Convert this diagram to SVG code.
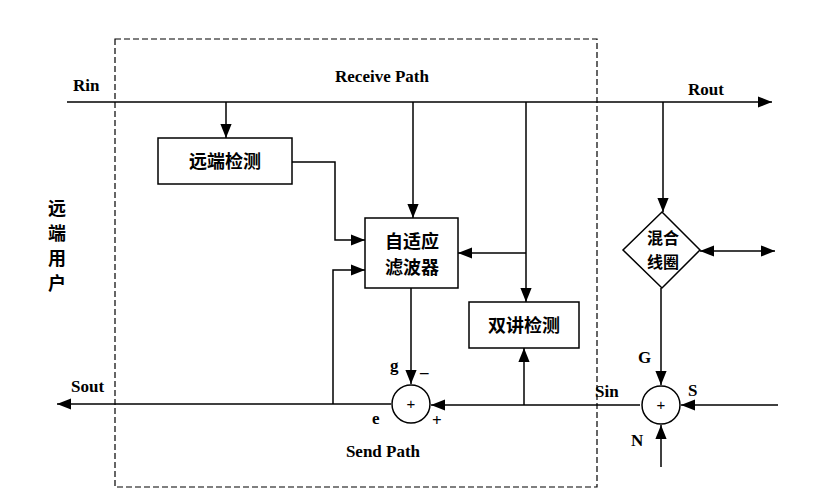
<svg xmlns="http://www.w3.org/2000/svg" width="826" height="498" viewBox="0 0 826 498">
<defs>
<marker id="ah" viewBox="0 0 10 10" refX="10" refY="5" markerWidth="14" markerHeight="14" markerUnits="userSpaceOnUse" orient="auto-start-reverse">
<path d="M0,1 L10,5 L0,9 Z" fill="#000"/>
</marker>
</defs>
<style>
.ln{stroke:#000;stroke-width:1.5;fill:none}
.box{stroke:#000;stroke-width:1.5;fill:#fff}
.en{font-family:"Liberation Serif","Times New Roman",serif;font-weight:bold;font-size:17px;fill:#000}
.cn{font-family:"Noto Sans CJK SC","Noto Sans",sans-serif;font-weight:bold;font-size:18px;fill:#000}
.cn2{font-family:"Noto Sans CJK SC","Noto Sans",sans-serif;font-weight:bold;font-size:16px;fill:#000}
.sym{font-family:"Liberation Sans",Arial,sans-serif;font-size:15px;fill:#000}
</style>
<rect width="826" height="498" fill="#fff"/>
<rect id="boundary" x="115" y="39" width="482" height="448" fill="none" stroke="#000" stroke-width="1.2" stroke-dasharray="6,3"/>
<g id="connectors">
<line class="ln" x1="67" y1="102" x2="772" y2="102" marker-end="url(#ah)"/>
<line class="ln" x1="226" y1="102" x2="226" y2="138" marker-end="url(#ah)"/>
<polyline class="ln" points="292,162 335,162 335,240 365,240" marker-end="url(#ah)"/>
<line class="ln" x1="413" y1="102" x2="413" y2="218" marker-end="url(#ah)"/>
<line class="ln" x1="526" y1="102" x2="526" y2="302" marker-end="url(#ah)"/>
<line class="ln" x1="526" y1="253" x2="458" y2="253" marker-end="url(#ah)"/>
<line class="ln" x1="411" y1="288" x2="411" y2="384" marker-end="url(#ah)"/>
<polyline class="ln" points="333,404 333,270 365,270" marker-end="url(#ah)"/>
<line class="ln" x1="391" y1="404" x2="57" y2="404" marker-end="url(#ah)"/>
<line class="ln" x1="640" y1="405" x2="431" y2="405" marker-end="url(#ah)"/>
<line class="ln" x1="524" y1="405" x2="524" y2="348" marker-end="url(#ah)"/>
<line class="ln" x1="663" y1="102" x2="663" y2="212" marker-end="url(#ah)"/>
<line class="ln" x1="700" y1="251" x2="775" y2="251" marker-start="url(#ah)" marker-end="url(#ah)"/>
<line class="ln" x1="661" y1="288" x2="661" y2="385" marker-end="url(#ah)"/>
<line class="ln" x1="778" y1="405" x2="681" y2="405" marker-end="url(#ah)"/>
<line class="ln" x1="661" y1="467" x2="661" y2="425" marker-end="url(#ah)"/>
</g>
<g id="far-detect">
<rect class="box" x="158" y="138" width="134" height="46"/>
<text class="cn" x="225" y="168" text-anchor="middle">远端检测</text>
</g>
<g id="adaptive-filter">
<rect class="box" x="365" y="218" width="93" height="70"/>
<text class="cn" x="412" y="248" text-anchor="middle">自适应</text>
<text class="cn" x="412" y="274" text-anchor="middle">滤波器</text>
</g>
<g id="double-talk">
<rect class="box" x="469" y="302" width="110" height="46"/>
<text class="cn" x="524" y="332" text-anchor="middle">双讲检测</text>
</g>
<g id="hybrid">
<polygon class="box" points="662,212 700,250 662,288 623,250"/>
<text class="cn2" x="663" y="244" text-anchor="middle">混合</text>
<text class="cn2" x="663" y="268" text-anchor="middle">线圈</text>
</g>
<g id="sum-e">
<circle class="box" cx="411" cy="404" r="19"/>
<text class="sym" x="411" y="409" text-anchor="middle">+</text>
</g>
<g id="sum-sin">
<circle class="box" cx="661" cy="405" r="19"/>
<text class="sym" x="661" y="410" text-anchor="middle">+</text>
</g>
<g id="labels">
<text class="en" x="73" y="91">Rin</text>
<text class="en" x="382" y="82" text-anchor="middle">Receive Path</text>
<text class="en" x="688" y="95">Rout</text>
<text class="en" x="71" y="392">Sout</text>
<text class="en" x="390" y="371">g</text>
<text class="en" x="420" y="378">–</text>
<text class="en" x="372" y="424">e</text>
<text class="en" x="432" y="426">+</text>
<text class="en" x="383" y="457" text-anchor="middle">Send Path</text>
<text class="en" x="595" y="397">Sin</text>
<text class="en" x="638" y="363">G</text>
<text class="en" x="688" y="396">S</text>
<text class="en" x="631" y="446">N</text>
<text class="cn" x="57" y="215" text-anchor="middle">远</text>
<text class="cn" x="57" y="240" text-anchor="middle">端</text>
<text class="cn" x="57" y="265" text-anchor="middle">用</text>
<text class="cn" x="57" y="290" text-anchor="middle">户</text>
</g>
</svg>
